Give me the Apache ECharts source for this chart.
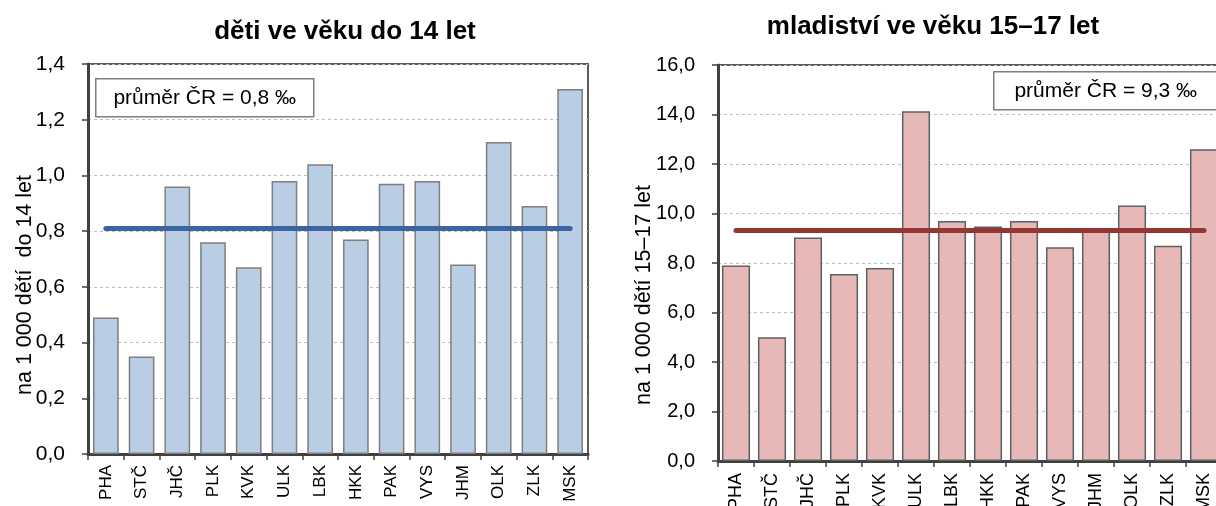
<!DOCTYPE html>
<html><head><meta charset="utf-8">
<script src="https://cdn.jsdelivr.net/npm/echarts@6/dist/echarts.min.js"></script>
<style>html,body{margin:0;padding:0;background:#fff}#c{width:1216px;height:506px}</style>
</head><body><div id="c"></div>
<script>
const categories = ['PHA','STČ','JHČ','PLK','KVK','ULK','LBK','HKK','PAK','VYS','JHM','OLK','ZLK','MSK'];
const childrenValues = [0.49,0.35,0.96,0.76,0.67,0.98,1.04,0.77,0.97,0.98,0.68,1.12,0.89,1.31];
const youthValues = [7.9,5.0,9.03,7.56,7.8,14.13,9.7,9.47,9.7,8.64,9.28,10.32,8.7,12.6];
const avgChildren = 0.81;
const avgYouth = 9.33;
const titleLeft = 'děti ve věku do 14 let';
const titleRight = 'mladiství ve věku 15–17 let';
const axisNameLeft = 'na 1 000 dětí  do 14 let';
const axisNameRight = 'na 1 000 dětí 15–17 let';
const legendLeft = 'průměr ČR = 0,8 ‰';
const legendRight = 'průměr ČR = 9,3 ‰';

const FONT = '"Liberation Sans", Arial, sans-serif';
const chart = echarts.init(document.getElementById('c'));
const fmt = v => v.toFixed(1).replace('.', ',');

function xAx(gi, fs, margin){
  return {type:'category', gridIndex:gi, data:categories,
    axisLine:{lineStyle:{color:'#404040', width:3}},
    axisTick:{show:true, length:6, lineStyle:{color:'#404040', width:1.5}},
    axisLabel:{rotate:90, margin:margin, color:'#000', fontSize:fs, fontFamily:FONT}};
}
function yAx(gi, max, interval, fs){
  return {type:'value', gridIndex:gi, min:0, max:max, interval:interval,
    axisLine:{show:true, lineStyle:{color:'#404040', width:3}},
    axisTick:{show:true, length:6, lineStyle:{color:'#404040', width:1.5}},
    axisLabel:{formatter:fmt, margin:23, color:'#000', fontSize:fs, fontFamily:FONT},
    splitLine:{show:true, lineStyle:{color:'#bfbfbf', width:1, type:[3,3]}}};
}
function avgLine(value, color){
  return {silent:true, symbol:'none', animation:false,
    lineStyle:{color:color, width:5, type:'solid', cap:'round'},
    label:{show:false},
    data:[[{coord:[categories[0], value]},{coord:[categories[categories.length-1], value]}]]};
}
function legendBox(x, y, w, h, text){
  return {type:'group', left:x, top:y, children:[
    {type:'rect', shape:{x:0,y:0,width:w,height:h}, style:{fill:'#fff', stroke:'#7f7f7f', lineWidth:1.5}},
    {type:'text', x:w/2, y:h/2, style:{text:text, fill:'#000', font:'21px '+FONT, align:'center', verticalAlign:'middle'}}
  ]};
}
function vText(x, y, text){
  return {type:'text', x:x, y:y, rotation:Math.PI/2,
    style:{text:text, fill:'#000', font:'21.5px '+FONT, align:'center', verticalAlign:'middle'}};
}

chart.setOption({
  animation:false,
  title:[
    {text:titleLeft, left:340, top:14, textAlign:'center', textStyle:{fontSize:26, fontWeight:'bold', color:'#000', fontFamily:FONT}},
    {text:titleRight, left:928, top:9, textAlign:'center', textStyle:{fontSize:26, fontWeight:'bold', color:'#000', fontFamily:FONT}}
  ],
  grid:[
    {left:88, top:64, width:500, height:390, show:true, borderColor:'#595959', borderWidth:2, backgroundColor:'transparent', outerBoundsMode:'none', containLabel:false},
    {left:718, top:65, width:504, height:396, show:true, borderColor:'#595959', borderWidth:2, backgroundColor:'transparent', outerBoundsMode:'none', containLabel:false}
  ],
  xAxis:[xAx(0, 17, 11), xAx(1, 18, 12)],
  yAxis:[yAx(0, 1.4, 0.2, 21), yAx(1, 16, 2, 20)],
  series:[
    {type:'bar', xAxisIndex:0, yAxisIndex:0, data:childrenValues, barCategoryGap:'28%',
     itemStyle:{color:'#B9CDE5', borderColor:'#7f7f7f', borderWidth:1.5},
     markLine:avgLine(avgChildren, '#3B64A0')},
    {type:'bar', xAxisIndex:1, yAxisIndex:1, data:youthValues, barCategoryGap:'22%',
     itemStyle:{color:'#E6B9B8', borderColor:'#606060', borderWidth:1.5},
     markLine:avgLine(avgYouth, '#943634')}
  ],
  graphic:[
    legendBox(95, 78, 218, 38, legendLeft),
    legendBox(993, 71, 224, 38, legendRight),
    vText(25, 285, axisNameLeft),
    vText(644, 295, axisNameRight)
  ]
});
</script></body></html>
